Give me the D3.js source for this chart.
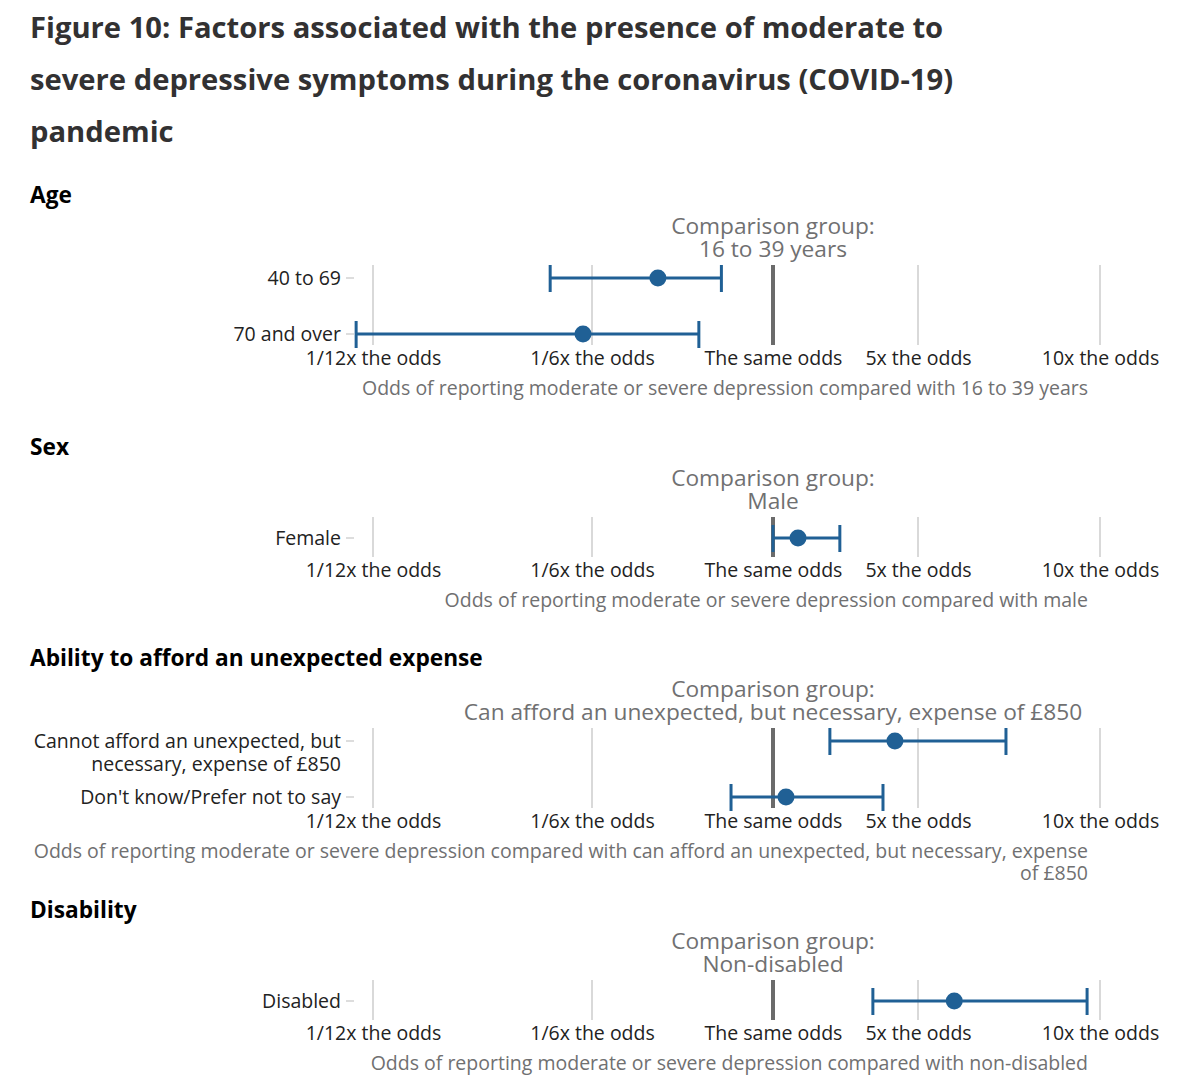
<!DOCTYPE html>
<html>
<head>
<meta charset="utf-8">
<script src="https://cdn.jsdelivr.net/npm/d3@7"></script>
<style>
	body { margin: 0; background: #ffffff; }
	svg { font-family: 'Open Sans', sans-serif; }
</style>
</head>
<body>
<svg id="chart" width="1200" height="1079"></svg>
<script>
// ---- data ----
const titleLines = [
	'Figure 10: Factors associated with the presence of moderate to',
	'severe depressive symptoms during the coronavirus (COVID-19)',
	'pandemic'
];

const tickValues = [1/12, 1/6, 1, 5, 10];
const tickLabels = ['1/12x the odds', '1/6x the odds', 'The same odds', '5x the odds', '10x the odds'];

const panelNames = ['Age', 'Sex', 'Ability to afford an unexpected expense', 'Disability'];
const comparisonGroups = ['16 to 39 years', 'Male', 'Can afford an unexpected, but necessary, expense of £850', 'Non-disabled'];
const axisTitles = [
	'Odds of reporting moderate or severe depression compared with 16 to 39 years',
	'Odds of reporting moderate or severe depression compared with male',
	'Odds of reporting moderate or severe depression compared with can afford an unexpected, but necessary, expense of £850',
	'Odds of reporting moderate or severe depression compared with non-disabled'
];

// categories per panel (\n = forced line break)
const ageGroups = ['40 to 69', '70 and over'];
const sexGroups = ['Female'];
const affordGroups = ['Cannot afford an unexpected, but\nnecessary, expense of £850', "Don't know/Prefer not to say"];
const disabilityGroups = ['Disabled'];

// odds ratio, lower CI, upper CI
const ageOdds = [0.32, 0.162];
const ageLow = [0.146, 0.079];
const ageHigh = [0.60, 0.48];

const sexOdds = [1.32];
const sexLow = [1.0];
const sexHigh = [2.10];

const affordOdds = [3.87, 1.155];
const affordLow = [1.88, 0.66];
const affordHigh = [6.99, 3.39];

const disabilityOdds = [5.74];
const disabilityLow = [3.03];
const disabilityHigh = [9.52];

// ---- drawing ----
const chart = {
	svg: d3.select('#chart'),
	blue: '#206095',
	grey: '#707071',
	ink: '#222222',
	// x 위치 (piecewise log scale, 눈금 위치)
	x: d3.scaleLog().domain(tickValues).range([373, 592, 773, 918, 1100]),

	title: function() {
		this.svg.append('g').selectAll('text')
			.data(titleLines)
			.join('text')
			.attr('x', 30)
			.attr('y', (d, i) => 38 + i * 52)
			.style('font-size', '29.2px')
			.style('font-weight', 'bold')
			.style('fill', '#323132')
			.text(d => d);
	},

	// wrap long text to width, right aligned
	wrap: function(textSel, width) {
		const words = textSel.text().split(' ');
		textSel.text(null);
		let line = [];
		let tspan = textSel.append('tspan').attr('x', textSel.attr('x')).attr('dy', 0);
		words.forEach(w => {
			line.push(w);
			tspan.text(line.join(' '));
			if(tspan.node().getComputedTextLength() > width && line.length > 1) {
				line.pop();
				tspan.text(line.join(' '));
				line = [w];
				tspan = textSel.append('tspan').attr('x', textSel.attr('x')).attr('dy', 22).text(w);
			}
		});
	},

	panel: function(i, top, groups, odds, low, high) {
		const g = this.svg.append('g');
		const x = this.x;
		const gridTop = top + 62;
		const gridBottom = gridTop + 40 * groups.length;
		const y = d3.scalePoint().domain(groups).range([gridTop + 13, gridBottom - 11]).align(0.5);

		// 섹션 제목
		g.append('text')
			.attr('x', 30)
			.attr('y', top)
			.style('font-size', '22.7px')
			.style('font-weight', 'bold')
			.style('fill', '#000')
			.text(panelNames[i]);

		// comparison group
		g.append('text')
			.attr('x', x(1))
			.attr('y', top + 31)
			.style('font-size', '22.7px')
			.style('fill', this.grey)
			.style('text-anchor', 'middle')
			.text('Comparison group:');
		g.append('text')
			.attr('x', x(1))
			.attr('y', top + 54)
			.style('font-size', '22.7px')
			.style('fill', this.grey)
			.style('text-anchor', 'middle')
			.text(comparisonGroups[i]);

		// grid lines
		g.append('g').selectAll('line')
			.data(tickValues.filter(v => v !== 1))
			.join('line')
			.attr('x1', d => x(d)).attr('x2', d => x(d))
			.attr('y1', gridTop).attr('y2', gridBottom)
			.style('stroke', '#cccccc')
			.style('stroke-width', 1.5);

		// same odds line
		g.append('line')
			.attr('x1', x(1)).attr('x2', x(1))
			.attr('y1', gridTop).attr('y2', gridBottom)
			.style('stroke', '#6b6b6b')
			.style('stroke-width', 4);

		// x axis tick labels
		const axis = d3.axisBottom(x)
			.tickValues(tickValues)
			.tickFormat((d, k) => tickLabels[k])
			.tickSize(0)
			.tickPadding(0);
		const ax = g.append('g')
			.attr('transform', 'translate(0,' + gridBottom + ')')
			.call(axis);
		ax.select('.domain').remove();
		ax.selectAll('text')
			.attr('dy', '1em')
			.style('font-family', "'Open Sans', sans-serif")
			.style('font-size', '19.5px')
			.style('fill', this.ink);

		// axis title
		const at = g.append('text')
			.attr('x', 1088)
			.attr('y', gridBottom + 50)
			.style('font-size', '19.5px')
			.style('fill', this.grey)
			.style('text-anchor', 'end')
			.text(axisTitles[i]);
		this.wrap(at, 1060);

		// y labels
		const rows = g.append('g').selectAll('g')
			.data(groups)
			.join('g')
			.attr('transform', d => 'translate(0,' + y(d) + ')');
		rows.append('line')
			.attr('x1', 346).attr('x2', 354)
			.style('stroke', '#bbbbbb')
			.style('stroke-width', 1);
		rows.append('text')
			.attr('x', 341)
			.style('font-size', '19.5px')
			.style('fill', this.ink)
			.style('text-anchor', 'end')
			.selectAll('tspan')
			.data(d => d.split('\n'))
			.join('tspan')
			.attr('x', 341)
			.attr('dy', (d, k) => k === 0 ? '0.35em' : '1.2em')
			.text(d => d);

		// error bars + points
		const bars = g.append('g').selectAll('g')
			.data(groups.map((d, k) => ({ name: d, or: odds[k], lo: low[k], hi: high[k] })))
			.join('g')
			.attr('transform', d => 'translate(0,' + y(d.name) + ')');
		bars.append('line')
			.attr('x1', d => x(d.lo)).attr('x2', d => x(d.hi))
			.style('stroke', this.blue).style('stroke-width', 3);
		bars.append('line')
			.attr('x1', d => x(d.lo)).attr('x2', d => x(d.lo))
			.attr('y1', -13).attr('y2', 14)
			.style('stroke', this.blue).style('stroke-width', 3);
		bars.append('line')
			.attr('x1', d => x(d.hi)).attr('x2', d => x(d.hi))
			.attr('y1', -13).attr('y2', 14)
			.style('stroke', this.blue).style('stroke-width', 3);
		bars.append('circle')
			.attr('cx', d => x(d.or))
			.attr('r', 8.5)
			.style('fill', this.blue);
	}
};

chart.title();
chart.panel(0, 203, ageGroups, ageOdds, ageLow, ageHigh);
chart.panel(1, 455, sexGroups, sexOdds, sexLow, sexHigh);
chart.panel(2, 666, affordGroups, affordOdds, affordLow, affordHigh);
chart.panel(3, 918, disabilityGroups, disabilityOdds, disabilityLow, disabilityHigh);
</script>
</body>
</html>
